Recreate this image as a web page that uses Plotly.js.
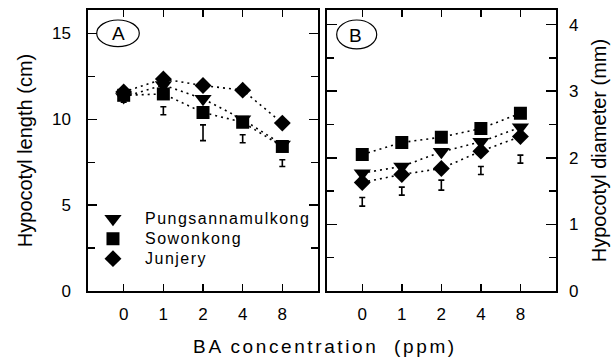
<!DOCTYPE html>
<html>
<head>
<meta charset="utf-8">
<script src="https://cdn.plot.ly/plotly-3.0.1.min.js"></script>
<style>
  html, body { margin: 0; padding: 0; background: #fff; }
  #chart { width: 612px; height: 358px; }
</style>
</head>
<body>
<div id="chart"></div>
<script>
// ---- data ----
const doses = ['0', '1', '2', '4', '8'];
const seriesNames = ['Pungsannamulkong', 'Sowonkong', 'Junjery'];

// Panel A: hypocotyl length (cm)
const lenPung  = [11.3, 12.0, 11.2, 10.0, 8.53];
const lenSowon = [11.4, 11.48, 10.4, 9.83, 8.42];
const lenJun   = [11.6, 12.35, 11.97, 11.7, 9.78];
const lenBar    = [11.2, 10.5, 9.22, 8.87, 7.45];
const lenBarErr = [0.2, 0.23, 0.46, 0.23, 0.2];

// Panel B: hypocotyl diameter (mm)
const diaPung  = [1.77, 1.87, 2.09, 2.24, 2.46];
const diaSowon = [2.05, 2.23, 2.31, 2.44, 2.67];
const diaJun   = [1.63, 1.75, 1.84, 2.10, 2.32];
const diaBar    = [1.34, 1.50, 1.59, 1.81, 1.98];
const diaBarErr = [0.065, 0.06, 0.075, 0.06, 0.06];

// ---- styling ----
const FONT = 'Liberation Sans, Arial, Helvetica, sans-serif';
const symbols = ['triangle-down', 'square', 'diamond'];
const sizes = [15, 13, 13];
const lineStyle = {color: '#000', width: 1.6, dash: '2px,4px'};

function seriesTraces(xa, ya, vals, showLegend) {
  const out = [];
  vals.forEach((v, i) => {
    out.push({
      x: doses, y: v, xaxis: xa, yaxis: ya, type: 'scatter', mode: 'lines',
      line: lineStyle, showlegend: false, hoverinfo: 'skip'
    });
  });
  vals.forEach((v, i) => {
    out.push({
      x: doses, y: v, xaxis: xa, yaxis: ya, type: 'scatter', mode: 'markers',
      name: seriesNames[i], showlegend: showLegend,
      marker: {symbol: symbols[i], size: sizes[i], color: '#000', line: {width: 0}}
    });
  });
  return out;
}

function barTrace(xa, ya, v, e) {
  return {
    x: doses, y: v, xaxis: xa, yaxis: ya, type: 'scatter', mode: 'markers',
    showlegend: false, hoverinfo: 'skip',
    marker: {size: 2, color: 'rgba(0,0,0,0)'},
    error_y: {type: 'data', array: e, visible: true, color: '#000', thickness: 1.6, width: 3}
  };
}

const traces = [
  ...seriesTraces('x', 'y', [lenPung, lenSowon, lenJun], true),
  barTrace('x', 'y', lenBar, lenBarErr),
  ...seriesTraces('x2', 'y2', [diaPung, diaSowon, diaJun], false),
  barTrace('x2', 'y2', diaBar, diaBarErr)
];

const axBase = {
  showline: true, linecolor: '#000', linewidth: 1.6, mirror: 'ticks',
  ticks: 'inside', tickcolor: '#000', tickwidth: 1.5,
  showgrid: false, zeroline: false,
  tickfont: {family: FONT, size: 17, color: '#000'}
};

const layout = {
  width: 612, height: 358,
  margin: {l: 88, r: 56, t: 10, b: 66.5},
  paper_bgcolor: '#fff', plot_bgcolor: '#fff',
  font: {family: FONT, color: '#000'},
  showlegend: true,
  legend: {
    x: -0.015, y: 0.31, xanchor: 'left', yanchor: 'top',
    bgcolor: 'rgba(0,0,0,0)', borderwidth: 0, itemwidth: 54,
    font: {family: FONT, size: 13, color: '#000'}, tracegroupgap: 0
  },
  xaxis: Object.assign({}, axBase, {
    type: 'category', domain: [0, 0.4915], anchor: 'y', range: [-0.9, 4.9],
    ticklen: 7, ticklabelstandoff: 7
  }),
  xaxis2: Object.assign({}, axBase, {
    type: 'category', domain: [0.5100, 1], anchor: 'y2', range: [-0.9, 4.9],
    ticklen: 7, ticklabelstandoff: 7
  }),
  yaxis: Object.assign({}, axBase, {
    anchor: 'x', range: [0, 16.37], tick0: 0, dtick: 5, ticklen: 9,
    minor: {dtick: 2.5, ticks: 'inside', ticklen: 7, tickcolor: '#000', tickwidth: 1.5, showgrid: false},
    ticklabelstandoff: 12,
    title: {text: 'Hypocotyl length (cm)', font: {family: FONT, size: 20, color: '#000'}, standoff: 14}
  }),
  yaxis2: Object.assign({}, axBase, {
    anchor: 'x2', side: 'right', range: [0, 4.22], tick0: 0, dtick: 1, ticklen: 10,
    minor: {dtick: 0.5, ticks: 'inside', ticklen: 7, tickcolor: '#000', tickwidth: 1.5, showgrid: false},
    ticklabelstandoff: 8,
    title: {text: 'Hypocotyl diameter (mm)', font: {family: FONT, size: 20, color: '#000'}, standoff: 14}
  }),
  shapes: [
    {type: 'circle', xref: 'paper', yref: 'paper', x0: 0.0186, x1: 0.1096, y0: 0.8696, y1: 0.9645,
     line: {color: '#000', width: 1.2}},
    {type: 'circle', xref: 'paper', yref: 'paper', x0: 0.5314, x1: 0.6169, y0: 0.8615, y1: 0.9645,
     line: {color: '#000', width: 1.2}}
  ],
  annotations: [
    {text: 'A', xref: 'paper', yref: 'paper', x: 0.0647, y: 0.9147, xanchor: 'center', yanchor: 'middle',
     showarrow: false, font: {family: FONT, size: 19, color: '#000'}},
    {text: 'B', xref: 'paper', yref: 'paper', x: 0.5716, y: 0.9076, xanchor: 'center', yanchor: 'middle',
     showarrow: false, font: {family: FONT, size: 19, color: '#000'}},
    {text: 'BA concentration  (ppm)', xref: 'paper', yref: 'paper', x: 0.5064, y: -0.197,
     xanchor: 'center', yanchor: 'middle', showarrow: false,
     font: {family: FONT, size: 19, color: '#000'}}
  ]
};

Plotly.newPlot('chart', traces, layout, {staticPlot: true}).then(gd => {
  // the legend is laid out with a compact row pitch, then its text is shown at the reference size
  gd.querySelectorAll('.legend [clip-path]').forEach(el => el.removeAttribute('clip-path'));
  gd.querySelectorAll('.legendtext').forEach(t => {
    t.style.fontSize = '16px';
    t.style.letterSpacing = '1.5px';
  });
  const ann = gd.querySelectorAll('.annotation-text');
  if (ann.length >= 3) ann[2].style.letterSpacing = '2.6px';
});
</script>
</body>
</html>
